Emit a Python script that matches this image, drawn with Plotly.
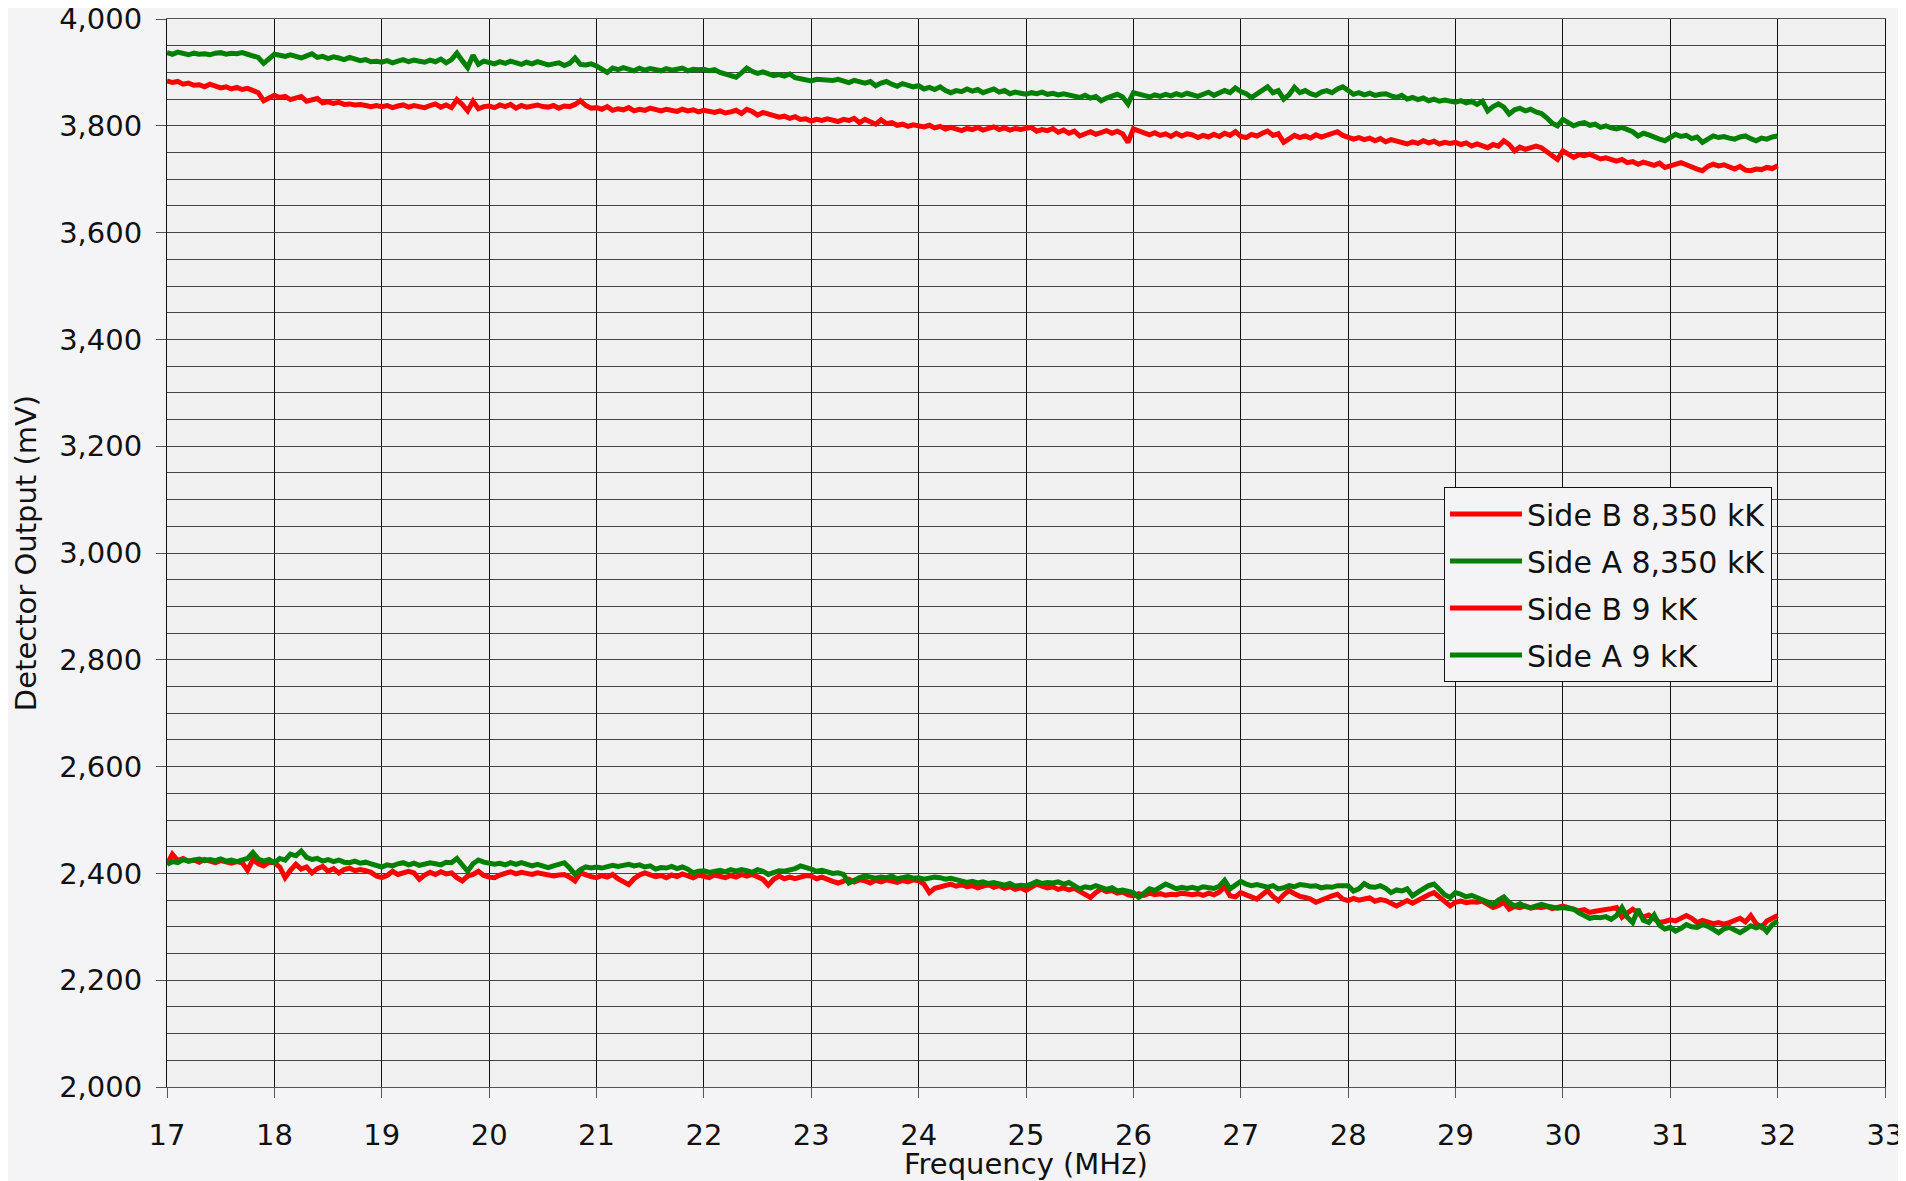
import numpy as np
import plotly.graph_objects as go

# Frequency axis (MHz), one sample every 0.05 MHz from 17 to 32
freq_start = 17.0
freq_step = 0.05
n_points = 301

side_b_8350 = [
    3884, 3881, 3883, 3878, 3880, 3876, 3877, 3873, 3878, 3874, 3871, 3873, 3869, 3872, 3868, 3870, 3866, 3862, 3847, 3852,
    3857, 3853, 3855, 3849, 3852, 3855, 3846, 3848, 3851, 3843, 3845, 3842, 3844, 3840, 3841, 3839, 3840, 3838, 3836, 3838,
    3836, 3838, 3834, 3837, 3839, 3835, 3838, 3836, 3834, 3838, 3841, 3835, 3839, 3834, 3849, 3840, 3828, 3846, 3832, 3836,
    3837, 3834, 3839, 3836, 3840, 3833, 3838, 3835, 3837, 3839, 3836, 3835, 3838, 3833, 3837, 3836, 3840, 3847, 3838, 3833,
    3834, 3831, 3836, 3829, 3832, 3830, 3834, 3828, 3831, 3829, 3833, 3830, 3828, 3831, 3829, 3827, 3831, 3828, 3830, 3826,
    3829, 3827, 3825, 3828, 3824, 3826, 3829, 3823, 3831, 3827, 3820, 3825, 3822, 3819, 3816, 3818, 3814, 3817, 3812, 3813,
    3809, 3812, 3810, 3813, 3811, 3808, 3812, 3810, 3814, 3806, 3812, 3808, 3803, 3811, 3804, 3806, 3801, 3803, 3799, 3802,
    3800, 3798, 3801, 3796, 3799, 3794, 3797, 3793, 3791, 3795, 3793, 3797, 3792, 3795, 3798, 3793, 3796, 3792, 3795, 3793,
    3794, 3797, 3790, 3793, 3791, 3795, 3788, 3792, 3786, 3790, 3781, 3786, 3789, 3784, 3787, 3791, 3786, 3790, 3785, 3769,
    3794, 3790, 3786, 3783, 3787, 3782, 3785, 3780, 3786, 3781, 3785, 3783, 3778, 3782, 3779, 3784, 3780, 3786, 3782, 3789,
    3780, 3778, 3784, 3781, 3786, 3790, 3782, 3785, 3769, 3776, 3782, 3778, 3781, 3777, 3783, 3779, 3782, 3785, 3789, 3782,
    3778, 3775, 3778, 3774, 3777, 3772, 3776, 3770, 3774, 3771, 3768, 3766, 3770, 3767, 3772, 3768, 3771, 3766, 3769, 3767,
    3769, 3765, 3768, 3762, 3766, 3763, 3759, 3765, 3762, 3772, 3765, 3753, 3760, 3756, 3758, 3762, 3759, 3752, 3745, 3737,
    3753, 3748, 3741, 3746, 3744, 3747, 3742, 3738, 3740, 3736, 3734, 3737, 3731, 3733, 3728, 3732, 3729, 3726, 3730, 3722,
    3725, 3729, 3731, 3727, 3722, 3719, 3716, 3724, 3728, 3725, 3727, 3722, 3719, 3724, 3717, 3716, 3719, 3718, 3722, 3720,
    3725,
]

side_a_8350 = [
    3937, 3934, 3938, 3935, 3933, 3936, 3934, 3935, 3933, 3936, 3937, 3934, 3936, 3935, 3937, 3934, 3932, 3928, 3917, 3926,
    3934, 3932, 3930, 3933, 3929, 3927, 3931, 3935, 3928, 3930, 3926, 3929, 3927, 3924, 3928, 3925, 3922, 3924, 3920, 3921,
    3919, 3922, 3918, 3921, 3924, 3920, 3923, 3921, 3919, 3923, 3920, 3925, 3918, 3924, 3936, 3922, 3909, 3932, 3915, 3921,
    3919, 3916, 3920, 3917, 3921, 3918, 3915, 3919, 3916, 3920, 3918, 3914, 3916, 3918, 3913, 3917, 3927, 3915, 3914, 3916,
    3912, 3906, 3900, 3908, 3905, 3909, 3906, 3903, 3908, 3904, 3907, 3905, 3903, 3907, 3904, 3906, 3908, 3903, 3906, 3905,
    3906, 3903, 3905, 3900, 3897, 3894, 3891, 3899, 3908, 3902, 3898, 3901, 3897, 3894, 3896, 3893, 3897, 3890, 3888, 3885,
    3884, 3887, 3886, 3887, 3885, 3887, 3884, 3881, 3885, 3882, 3880, 3883, 3875, 3880, 3883, 3878, 3874, 3879, 3876, 3873,
    3875, 3869, 3872, 3868, 3873, 3866, 3862, 3866, 3864, 3869, 3865, 3868, 3862, 3866, 3869, 3863, 3866, 3860, 3863, 3861,
    3859, 3862, 3860, 3863, 3859, 3861, 3858, 3860, 3857, 3855, 3853, 3857, 3852, 3855, 3847, 3852, 3856, 3859, 3854, 3841,
    3862, 3859, 3856, 3854, 3858, 3855, 3859, 3856, 3860, 3857, 3861, 3858, 3855, 3859, 3863, 3857, 3861, 3866, 3862, 3871,
    3864, 3860, 3853, 3860, 3866, 3873, 3862, 3866, 3850, 3858, 3872, 3862, 3866, 3860, 3857, 3863, 3866, 3862, 3869, 3873,
    3866, 3859, 3862, 3858, 3861, 3857, 3859, 3860, 3856, 3853, 3857, 3850, 3853, 3849, 3852, 3847, 3850, 3846, 3848, 3845,
    3844, 3847, 3843, 3846, 3840, 3846, 3828, 3836, 3841, 3835, 3822, 3830, 3833, 3828, 3831, 3826, 3823, 3815, 3805, 3800,
    3812, 3806, 3800, 3804, 3806, 3801, 3803, 3797, 3800, 3796, 3794, 3797, 3792, 3789, 3781, 3786, 3783, 3778, 3775, 3772,
    3777, 3784, 3780, 3782, 3776, 3779, 3769, 3776, 3781, 3778, 3780, 3777, 3775, 3779, 3781, 3776, 3772, 3777, 3775, 3779,
    3781,
]

side_b_9 = [
    2417, 2436, 2424, 2428, 2423, 2425, 2421, 2426, 2423, 2420, 2424, 2421, 2419, 2422, 2420, 2406, 2426, 2418, 2414, 2421,
    2420, 2412, 2392, 2406, 2417, 2408, 2412, 2401, 2409, 2413, 2404, 2409, 2401, 2407, 2410, 2405, 2407, 2405, 2402, 2395,
    2392, 2396, 2404, 2398, 2401, 2404, 2401, 2389, 2397, 2402, 2398, 2403, 2399, 2401, 2392, 2386, 2395, 2398, 2404, 2396,
    2393, 2392, 2397, 2401, 2403, 2399, 2402, 2400, 2398, 2401, 2399, 2397, 2395, 2397, 2398, 2393, 2386, 2401, 2397, 2394,
    2392, 2396, 2393, 2398, 2390, 2385, 2379, 2390, 2397, 2401, 2398, 2394, 2396, 2392, 2397, 2394, 2399, 2396, 2392, 2397,
    2395, 2392, 2397, 2394, 2392, 2396, 2393, 2398, 2395, 2398, 2394, 2389, 2378, 2389, 2395, 2390, 2393, 2390, 2393, 2396,
    2395, 2390, 2393, 2388, 2385, 2382, 2386, 2389, 2384, 2388, 2386, 2382, 2387, 2384, 2388, 2385, 2383, 2387, 2384, 2388,
    2386, 2380, 2364, 2372, 2375, 2378, 2380, 2376, 2379, 2375, 2377, 2373, 2376, 2379, 2374, 2377, 2372, 2375, 2370, 2373,
    2368, 2374, 2380, 2376, 2373, 2375, 2370, 2373, 2369, 2372, 2366, 2362, 2355, 2364, 2371, 2366, 2368, 2363, 2365, 2360,
    2358, 2362, 2359, 2363, 2360, 2362, 2359, 2361, 2360, 2363, 2361, 2360, 2362, 2359, 2363, 2360, 2365, 2375, 2358, 2356,
    2364, 2360, 2357, 2352, 2360, 2368, 2357, 2349, 2360, 2368, 2362, 2357, 2355, 2352, 2346, 2349, 2354, 2358, 2361, 2352,
    2349, 2353, 2350, 2352, 2354, 2348, 2351, 2349, 2344, 2339, 2344, 2349, 2344, 2350, 2356, 2360, 2364, 2355, 2345, 2339,
    2346, 2348, 2345, 2347, 2346, 2348, 2342, 2336, 2340, 2346, 2333, 2338, 2336, 2339, 2335, 2337, 2336, 2338, 2334, 2337,
    2339, 2336, 2333, 2330, 2332, 2327, 2329, 2330, 2332, 2334, 2336, 2318, 2326, 2333, 2326, 2318, 2322, 2316, 2308, 2310,
    2313, 2311, 2315, 2321, 2316, 2308, 2312, 2309, 2306, 2308, 2305, 2308, 2312, 2316, 2309, 2321, 2306, 2299, 2311, 2317,
    2321,
]

side_a_9 = [
    2417, 2422, 2420, 2426, 2423, 2425, 2427, 2424, 2426, 2424, 2427, 2423, 2425, 2422, 2424, 2428, 2439, 2427, 2423, 2426,
    2420, 2428, 2425, 2436, 2433, 2442, 2430, 2426, 2428, 2423, 2426, 2422, 2425, 2421, 2420, 2423, 2419, 2421, 2418, 2414,
    2412, 2416, 2414, 2418, 2420, 2416, 2419, 2415, 2417, 2420, 2418, 2416, 2421, 2420, 2428, 2416, 2404, 2418, 2425, 2421,
    2418, 2417, 2419, 2416, 2420, 2417, 2420, 2418, 2414, 2417, 2415, 2411, 2414, 2416, 2420, 2410, 2398, 2407, 2412, 2410,
    2412, 2410, 2412, 2415, 2413, 2416, 2417, 2414, 2416, 2412, 2414, 2408, 2411, 2410, 2413, 2409, 2412, 2408, 2401, 2404,
    2405, 2402, 2404, 2406, 2403, 2407, 2404, 2407, 2405, 2402, 2407, 2404, 2398, 2402, 2405, 2404, 2406, 2409, 2414, 2412,
    2408, 2404, 2406, 2403, 2400, 2401, 2398, 2382, 2388, 2392, 2395, 2393, 2391, 2393, 2392, 2395, 2390, 2392, 2394, 2391,
    2392, 2389, 2391, 2393, 2392, 2389, 2391, 2388, 2386, 2383, 2385, 2382, 2384, 2381, 2383, 2380, 2378, 2381, 2376, 2378,
    2377, 2380, 2385, 2381, 2383, 2382, 2384, 2380, 2383, 2377, 2371, 2375, 2373, 2377, 2374, 2370, 2373, 2367, 2369, 2366,
    2364, 2355, 2363, 2371, 2368, 2374, 2380, 2376, 2371, 2374, 2372, 2374, 2371, 2375, 2373, 2372, 2376, 2387, 2371, 2379,
    2385, 2380, 2377, 2379, 2376, 2374, 2377, 2371, 2373, 2377, 2375, 2379, 2378, 2376, 2377, 2373, 2375, 2374, 2377, 2376,
    2377, 2367, 2371, 2381, 2375, 2374, 2377, 2372, 2364, 2369, 2367, 2371, 2358, 2365, 2371, 2377, 2380, 2369, 2360, 2355,
    2364, 2361, 2356, 2359, 2355, 2351, 2347, 2342, 2350, 2356, 2345, 2339, 2343, 2338, 2336, 2340, 2342, 2339, 2337, 2335,
    2336, 2334, 2333, 2326, 2321, 2316, 2318, 2317, 2319, 2314, 2321, 2336, 2318, 2308, 2333, 2312, 2308, 2322, 2303, 2296,
    2299, 2292, 2297, 2304, 2300, 2299, 2304, 2301, 2295, 2289, 2296, 2299, 2294, 2289, 2295, 2302, 2298, 2302, 2291, 2304,
    2311,
]

series_names = ["Side B 8,350 kK", "Side A 8,350 kK", "Side B 9 kK", "Side A 9 kK"]
series_values = [side_b_8350, side_a_8350, side_b_9, side_a_9]
series_colors = ["#ff0000", "#008000", "#ff0000", "#008000"]

x_ticks = list(range(17, 34))
y_ticks = list(range(2000, 4001, 200))
y_tick_text = [f"{v:,}" for v in y_ticks]
x_title = "Frequency (MHz)"
y_title = "Detector Output (mV)"

freq = [round(freq_start + i * freq_step, 2) for i in range(n_points)]

FONT = "DejaVu Sans"
fig = go.Figure()
for i, (name, vals, col) in enumerate(zip(series_names, series_values, series_colors)):
    fig.add_trace(go.Scatter(x=freq, y=vals, name=name, mode="lines",
                             legendgroup=f"g{i}",
                             line=dict(color=col, width=5)))

fig.update_layout(
    width=1898, height=1181,
    margin=dict(l=159, r=21, t=11, b=102),
    paper_bgcolor="#f4f4f6",
    plot_bgcolor="#f0f0f0",
    font=dict(family=FONT, size=29, color="#111111"),
    showlegend=True,
    legend=dict(
        x=0.7433, y=0.5618, xanchor="left", yanchor="top",
        bgcolor="#f4f4f6", bordercolor="#111111", borderwidth=1,
        font=dict(family=FONT, size=30, color="#111111"),
        tracegroupgap=5, itemwidth=72,
    ),
    xaxis=dict(
        range=[17, 33], tickvals=x_ticks, ticktext=[str(v) for v in x_ticks],
        showgrid=True, gridcolor="#111111", gridwidth=1,
        ticks="outside", ticklen=10, tickcolor="#555555",
        showline=True, linecolor="#555555", mirror=True, zeroline=False,
        automargin=False, ticklabeloverflow="allow",
        ticklabelstandoff=12,
    ),
    yaxis=dict(
        range=[2000, 4000], tickvals=y_ticks, ticktext=y_tick_text,
        showgrid=True, gridcolor="#444444", gridwidth=1,
        ticks="outside", ticklen=10, tickcolor="#555555",
        minor=dict(dtick=50, showgrid=True, gridcolor="#444444", gridwidth=1, ticks=""),
        showline=True, linecolor="#111111", mirror=True, zeroline=False,
        automargin=False, ticklabeloverflow="allow",
        title=dict(text=y_title, standoff=14,
                   font=dict(family=FONT, size=29)),
        ticklabelstandoff=8,
    ),
    annotations=[dict(
        text=x_title, xref="paper", yref="paper", x=0.5, y=-0.0721,
        xanchor="center", yanchor="middle", showarrow=False,
        font=dict(family=FONT, size=29, color="#111111"),
    )],
)

fig.write_html("out.html")
